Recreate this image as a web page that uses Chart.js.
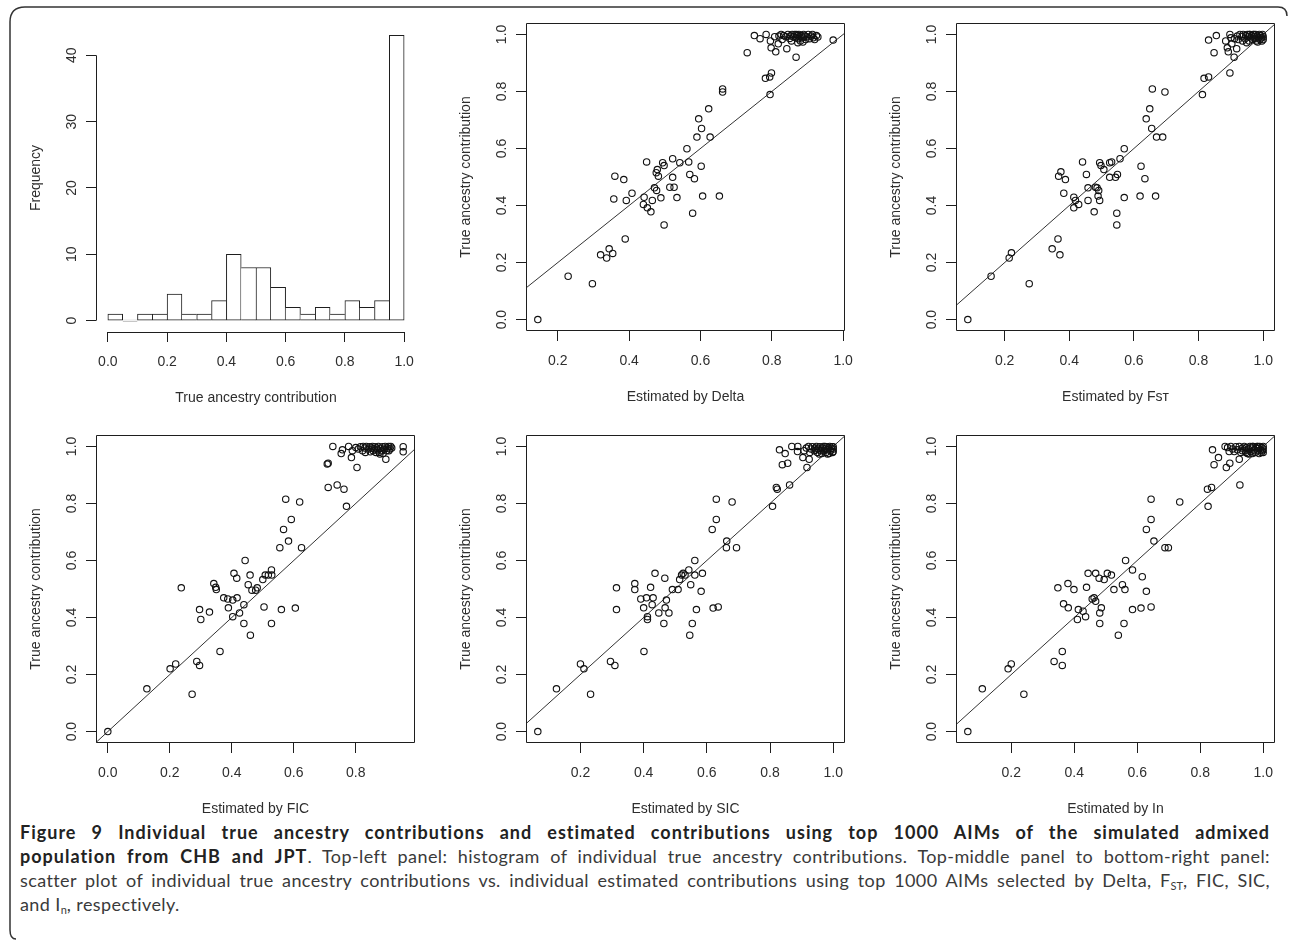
<!DOCTYPE html>
<html>
<head>
<meta charset="utf-8">
<script src="https://cdn.jsdelivr.net/npm/chart.js@4.4.1/dist/chart.umd.min.js"></script>
<style>
  body { margin: 0; background: #fff; width: 1290px; height: 940px; position: relative; overflow: hidden; }
  canvas { position: absolute; }
  #frame { position: absolute; left: 0; top: 0; }
  #caption { position: absolute; left: 20px; top: 820px; width: 1250px; font-family: Lato, "Open Sans", sans-serif;
             font-size: 18px; line-height: 24px; color: #3a3a3a; letter-spacing: 0.4px; }
  #caption div { text-align: justify; text-align-last: justify; white-space: nowrap; }
  #caption div.last { text-align-last: left; }
  #caption b { color: #222; letter-spacing: 1px; }
  #caption sub { font-size: 11px; vertical-align: -3px; line-height: 0; letter-spacing: 0; }
</style>
</head>
<body>
<svg id="frame" width="1290" height="940">
  <path d="M 16 939 Q 10 939 10 930 L 10 22 Q 10 7 25 7 L 1278 7 Q 1287 7 1287 16" fill="none" stroke="#333" stroke-width="1.5"/>
</svg>
<div id="caption">
  <div><b>Figure 9 Individual true ancestry contributions and estimated contributions using top 1000 AIMs of the simulated admixed</b></div>
  <div><b>population from CHB and JPT</b>. Top-left panel: histogram of individual true ancestry contributions. Top-middle panel to bottom-right panel:</div>
  <div>scatter plot of individual true ancestry contributions vs. individual estimated contributions using top 1000 AIMs selected by Delta, F<sub>ST</sub>, FIC, SIC,</div>
  <div class="last">and I<sub>n</sub>, respectively.</div>
</div>
<script>
// histogram of true ancestry contribution (bins of width 0.05)
const histBinCenters = [0.025, 0.075, 0.125, 0.175, 0.225, 0.275, 0.325, 0.375, 0.425, 0.475,
                        0.525, 0.575, 0.625, 0.675, 0.725, 0.775, 0.825, 0.875, 0.925, 0.975];
const histCounts = [1, 0, 1, 1, 4, 1, 1, 3, 10, 8, 8, 5, 2, 1, 2, 1, 3, 2, 3, 43];
const histXTicks = [0, 0.2, 0.4, 0.6, 0.8, 1.0];
const histYTicks = [0, 10, 20, 30, 40];

const trueTicks = [0, 0.2, 0.4, 0.6, 0.8, 1.0];
const estTicks = [0.2, 0.4, 0.6, 0.8, 1.0];
const ficTicks = [0, 0.2, 0.4, 0.6, 0.8];

// [estimated, true] per individual
const deltaPoints = [
  [0.144,0.000],[0.229,0.152],[0.297,0.126],[0.320,0.227],[0.337,0.216],[0.344,0.248],[0.354,0.232],[0.389,0.283],[0.357,0.423],[0.360,0.503],
  [0.385,0.491],[0.392,0.418],[0.408,0.443],[0.442,0.429],[0.440,0.404],[0.451,0.392],[0.461,0.378],[0.465,0.418],[0.449,0.553],[0.471,0.462],
  [0.476,0.515],[0.479,0.526],[0.482,0.503],[0.477,0.453],[0.489,0.427],[0.494,0.550],[0.498,0.540],[0.498,0.332],[0.522,0.564],[0.522,0.499],
  [0.514,0.464],[0.526,0.464],[0.534,0.428],[0.542,0.550],[0.562,0.599],[0.567,0.553],[0.570,0.509],[0.583,0.494],[0.578,0.373],[0.590,0.640],
  [0.595,0.704],[0.603,0.670],[0.602,0.538],[0.606,0.433],[0.623,0.739],[0.627,0.640],[0.653,0.433],[0.662,0.809],[0.662,0.798],[0.731,0.936],
  [0.751,0.996],[0.767,0.985],[0.784,1.000],[0.782,0.846],[0.794,0.851],[0.799,0.865],[0.795,0.789],[0.796,0.977],[0.798,0.953],[0.811,0.939],
  [0.818,0.967],[0.842,0.950],[0.868,0.920],[0.972,0.980],
  [0.808,0.992],[0.820,0.994],[0.826,1.000],[0.833,0.996],[0.839,0.992],[0.845,1.000],[0.850,0.986],[0.852,0.994],[0.857,1.000],[0.861,0.992],
  [0.864,1.000],[0.867,0.988],[0.869,1.000],[0.872,0.996],[0.874,0.985],[0.876,1.000],[0.878,0.992],[0.880,0.977],[0.883,0.996],[0.886,0.988],
  [0.889,1.000],[0.892,0.994],[0.895,0.982],[0.899,0.992],[0.902,1.000],[0.906,0.985],[0.911,0.994],[0.916,0.988],[0.920,0.982],[0.925,0.996],
  [0.929,0.991],[0.914,1.000],[0.887,0.973],[0.873,0.971],[0.829,0.982],[0.855,0.977]
];
const fstPoints = [
  [0.086,0.000],[0.158,0.152],[0.214,0.216],[0.221,0.234],[0.276,0.126],[0.347,0.248],[0.365,0.283],[0.371,0.227],[0.367,0.503],[0.374,0.518],
  [0.388,0.491],[0.383,0.443],[0.414,0.429],[0.414,0.392],[0.419,0.418],[0.429,0.404],[0.441,0.553],[0.453,0.509],[0.458,0.462],[0.458,0.418],
  [0.477,0.378],[0.481,0.464],[0.486,0.462],[0.489,0.433],[0.491,0.453],[0.494,0.418],[0.494,0.550],[0.498,0.540],[0.507,0.526],[0.525,0.499],
  [0.525,0.550],[0.531,0.553],[0.543,0.499],[0.549,0.509],[0.547,0.373],[0.547,0.332],[0.557,0.564],[0.570,0.599],[0.570,0.428],[0.622,0.538],
  [0.634,0.494],[0.619,0.433],[0.667,0.433],[0.638,0.704],[0.649,0.739],[0.655,0.670],[0.657,0.809],[0.670,0.640],[0.689,0.640],[0.696,0.798],
  [0.812,0.789],[0.817,0.846],[0.831,0.851],[0.848,0.936],[0.831,0.980],[0.855,0.996],[0.897,0.865],[0.884,0.977],[0.889,0.953],[0.892,0.939],
  [0.897,1.000],[0.910,0.920],[0.918,0.950],[0.903,0.967],
  [0.900,0.988],[0.911,0.985],[0.920,0.994],[0.928,1.000],[0.934,0.992],[0.938,1.000],[0.944,0.985],[0.946,0.996],[0.951,1.000],[0.955,0.992],
  [0.957,0.977],[0.959,1.000],[0.962,0.988],[0.965,0.996],[0.967,0.982],[0.969,1.000],[0.972,0.992],[0.975,0.985],[0.977,1.000],[0.979,0.977],
  [0.982,0.994],[0.986,0.988],[0.988,1.000],[0.990,0.982],[0.993,0.996],[0.995,0.988],[0.996,0.977],[0.998,1.000],[1.000,0.992],[1.000,0.982],
  [0.949,0.971],[0.936,0.977],[0.923,0.982],[0.983,0.973],[0.972,1.000],[0.957,1.000]
];
const ficPoints = [
  [0.000,0.000],[0.126,0.150],[0.201,0.220],[0.219,0.237],[0.272,0.131],[0.287,0.246],[0.296,0.232],[0.237,0.504],[0.296,0.428],[0.300,0.393],
  [0.328,0.419],[0.342,0.519],[0.348,0.506],[0.350,0.498],[0.362,0.281],[0.374,0.469],[0.389,0.434],[0.387,0.465],[0.403,0.461],[0.403,0.403],
  [0.407,0.555],[0.416,0.538],[0.417,0.469],[0.425,0.416],[0.439,0.445],[0.439,0.379],[0.443,0.600],[0.453,0.515],[0.459,0.549],[0.460,0.338],
  [0.465,0.496],[0.477,0.496],[0.482,0.504],[0.500,0.533],[0.504,0.437],[0.508,0.549],[0.518,0.549],[0.528,0.567],[0.529,0.549],[0.528,0.379],
  [0.555,0.645],[0.560,0.428],[0.567,0.709],[0.574,0.815],[0.583,0.668],[0.592,0.744],[0.605,0.433],[0.619,0.805],[0.625,0.645],[0.708,0.938],
  [0.711,0.941],[0.711,0.856],[0.726,1.000],[0.740,0.865],[0.753,0.975],[0.757,0.988],[0.762,0.850],[0.770,0.790],[0.777,1.000],[0.786,0.961],
  [0.804,0.926],[0.897,0.955],[0.953,0.999],[0.953,0.981],
  [0.800,0.996],[0.808,0.991],[0.815,0.999],[0.822,0.985],[0.829,0.994],[0.834,1.000],[0.831,0.979],[0.840,0.991],[0.845,0.999],[0.847,0.981],
  [0.851,0.994],[0.854,1.000],[0.856,0.985],[0.859,0.991],[0.862,0.999],[0.865,0.979],[0.868,0.994],[0.871,0.987],[0.873,1.000],[0.876,0.979],
  [0.880,0.993],[0.883,0.985],[0.886,0.999],[0.888,0.975],[0.892,0.991],[0.895,1.000],[0.899,0.985],[0.902,0.994],[0.906,1.000],[0.910,0.991],
  [0.913,1.000],[0.916,0.994],[0.789,0.985],[0.824,1.000],[0.878,0.973],[0.907,0.985]
];
const sicPoints = [
  [0.065,0.000],[0.124,0.150],[0.200,0.237],[0.211,0.220],[0.232,0.131],[0.295,0.246],[0.309,0.232],[0.314,0.504],[0.314,0.428],[0.372,0.519],
  [0.372,0.498],[0.391,0.465],[0.401,0.281],[0.400,0.434],[0.409,0.469],[0.412,0.403],[0.412,0.393],[0.422,0.506],[0.427,0.445],[0.430,0.469],
  [0.436,0.555],[0.448,0.416],[0.464,0.379],[0.467,0.538],[0.468,0.434],[0.472,0.461],[0.480,0.416],[0.491,0.498],[0.509,0.498],[0.514,0.533],
  [0.520,0.549],[0.525,0.555],[0.531,0.549],[0.543,0.567],[0.546,0.338],[0.549,0.515],[0.554,0.379],[0.562,0.600],[0.562,0.549],[0.567,0.428],
  [0.582,0.492],[0.586,0.555],[0.617,0.709],[0.620,0.433],[0.630,0.815],[0.630,0.744],[0.636,0.437],[0.662,0.645],[0.663,0.668],[0.680,0.805],
  [0.694,0.645],[0.808,0.790],[0.820,0.856],[0.823,0.850],[0.830,0.988],[0.839,0.936],[0.848,0.975],[0.856,0.941],[0.862,0.865],[0.869,1.000],
  [0.888,1.000],[0.887,0.982],[0.904,0.961],[0.917,0.926],[0.924,0.955],
  [0.908,0.985],[0.915,0.994],[0.922,1.000],[0.926,0.979],[0.930,0.991],[0.934,0.999],[0.940,0.985],[0.943,0.994],[0.947,1.000],[0.950,0.979],
  [0.953,0.991],[0.958,0.999],[0.961,0.985],[0.964,0.975],[0.966,0.994],[0.969,1.000],[0.971,0.985],[0.975,0.991],[0.977,0.979],[0.979,0.999],
  [0.982,0.988],[0.985,0.994],[0.987,0.975],[0.989,1.000],[0.992,0.985],[0.994,0.993],[0.996,0.999],[0.998,0.979],[1.000,0.991],[1.000,0.999],
  [1.000,0.982],[0.956,0.973],[0.982,0.973],[0.945,0.987],[0.974,1.000]
];
const inPoints = [
  [0.062,0.000],[0.108,0.150],[0.190,0.220],[0.200,0.237],[0.240,0.131],[0.336,0.246],[0.362,0.281],[0.362,0.232],[0.348,0.504],[0.366,0.448],
  [0.380,0.519],[0.381,0.434],[0.399,0.498],[0.410,0.393],[0.413,0.428],[0.428,0.422],[0.436,0.403],[0.439,0.506],[0.444,0.555],[0.457,0.465],
  [0.463,0.469],[0.468,0.457],[0.468,0.555],[0.479,0.538],[0.481,0.416],[0.481,0.379],[0.486,0.434],[0.495,0.533],[0.505,0.555],[0.518,0.549],
  [0.526,0.498],[0.540,0.338],[0.553,0.515],[0.558,0.379],[0.561,0.498],[0.563,0.600],[0.585,0.567],[0.585,0.428],[0.612,0.433],[0.616,0.543],
  [0.629,0.492],[0.629,0.709],[0.644,0.815],[0.644,0.744],[0.644,0.437],[0.653,0.668],[0.688,0.645],[0.699,0.645],[0.735,0.805],[0.825,0.790],
  [0.823,0.850],[0.836,0.856],[0.839,0.988],[0.844,0.936],[0.858,0.961],[0.879,1.000],[0.883,0.926],[0.894,0.941],[0.924,0.955],[0.926,0.865],
  [0.892,0.982],[0.966,0.975],
  [0.887,0.996],[0.897,1.000],[0.903,0.991],[0.908,0.982],[0.913,0.999],[0.918,0.988],[0.924,1.000],[0.929,0.979],[0.934,0.994],[0.940,1.000],
  [0.943,0.985],[0.947,0.996],[0.950,0.975],[0.953,0.991],[0.958,1.000],[0.961,0.982],[0.964,0.994],[0.968,1.000],[0.971,0.987],[0.975,0.979],
  [0.977,0.996],[0.980,1.000],[0.983,0.985],[0.985,0.993],[0.987,0.975],[0.989,1.000],[0.992,0.987],[0.994,0.979],[0.996,0.996],[0.998,0.985],
  [1.000,1.000],[1.000,0.991],[1.000,0.979],[0.945,0.979],[0.966,1.000],[0.983,1.000],[0.955,0.973],[0.934,0.985]
];

const INK = '#1e1e1e';
const TXT = '#2e2e2e';
const tickFont = { family: '"Liberation Sans", Arial, sans-serif', size: 14 };
const titleFont = { family: '"Liberation Sans", Arial, sans-serif', size: 14 };
const AXW = 90, AXH = 90, PADT = 30, PADR = 20;

// R's default axis range: data range widened by 4% on each side
function rRange(vals) {
  const lo = Math.min(...vals), hi = Math.max(...vals), d = (hi - lo) * 0.04;
  return [lo - d, hi + d];
}

// axis lines from first to last tick, plus the plot box for scatter panels
const rAxes = {
  id: 'rAxes',
  afterDraw(chart, args, opts) {
    const { ctx, chartArea: a, scales: { x, y } } = chart;
    ctx.save();
    ctx.strokeStyle = INK;
    ctx.lineWidth = 1;
    ctx.beginPath();
    if (opts.box) {
      ctx.rect(Math.round(a.left) + 0.5, Math.round(a.top) + 0.5,
               Math.round(a.right - a.left) - 1, Math.round(a.bottom - a.top) - 1);
    } else {
      const yb = Math.round(a.bottom) + 0.5, xl = Math.round(a.left) + 0.5;
      ctx.moveTo(x.getPixelForValue(x.ticks[0].value), yb);
      ctx.lineTo(x.getPixelForValue(x.ticks[x.ticks.length - 1].value), yb);
      ctx.moveTo(xl, y.getPixelForValue(y.ticks[0].value));
      ctx.lineTo(xl, y.getPixelForValue(y.ticks[y.ticks.length - 1].value));
    }
    ctx.stroke();
    ctx.restore();
  }
};

function addCanvas(box) {
  const c = document.createElement('canvas');
  const w = box.r - box.l + AXW + PADR, h = box.b - box.t + PADT + AXH;
  c.width = w; c.height = h;
  c.style.left = (box.l - AXW) + 'px';
  c.style.top = (box.t - PADT) + 'px';
  c.style.width = w + 'px';
  c.style.height = h + 'px';
  document.body.appendChild(c);
  return c;
}

const oneDec = v => Number(v).toFixed(1);

function xAxis(range, ticks, title, fmt) {
  return {
    type: 'linear', position: 'bottom', min: range[0], max: range[1], offset: false,
    afterBuildTicks: s => { s.ticks = ticks.map(v => ({ value: v })); },
    afterFit: s => { s.height = AXH; },
    grid: { drawOnChartArea: false, drawTicks: true, tickLength: 10, color: INK, offset: false },
    border: { display: false },
    ticks: { font: tickFont, color: TXT, padding: 11.6, minRotation: 0, maxRotation: 0, autoSkip: false, callback: fmt },
    title: { display: true, text: title, font: titleFont, color: TXT, padding: { top: 0, bottom: 15.6 } }
  };
}

function yAxis(range, ticks, title, fmt, pad) {
  return {
    type: 'linear', position: 'left', min: range[0], max: range[1],
    afterBuildTicks: s => { s.ticks = ticks.map(v => ({ value: v })); },
    afterFit: s => { s.width = AXW; },
    grid: { drawOnChartArea: false, drawTicks: true, tickLength: 10, color: INK },
    border: { display: false },
    ticks: { font: tickFont, color: TXT, padding: pad, minRotation: 90, maxRotation: 90, crossAlign: 'center', autoSkip: false, callback: fmt },
    title: { display: true, text: title, font: titleFont, color: TXT, padding: { top: 21.6, bottom: 0 } }
  };
}

const baseOptions = {
  responsive: false,
  animation: false,
  events: [],
  layout: { padding: { top: PADT, right: PADR, left: 0, bottom: 0 } }
};

// histogram panel
(function () {
  const box = { l: 96, t: 24, r: 416, b: 332 };
  const n = histCounts.length;
  new Chart(addCanvas(box), {
    type: 'bar',
    data: {
      datasets: [{
        data: histBinCenters.map((x, i) => ({ x, y: histCounts[i] })),
        backgroundColor: '#ffffff',
        borderColor: INK,
        borderSkipped: false,
        minBarLength: 1,
        barPercentage: 1,
        categoryPercentage: 1,
        borderWidth: c => {
          const i = c.dataIndex;
          return {
            top: 1, bottom: 1,
            left: (i === 0 || histCounts[i - 1] <= histCounts[i]) ? 1 : 0,
            right: (i === n - 1 || histCounts[i + 1] < histCounts[i]) ? 1 : 0
          };
        }
      }]
    },
    options: {
      ...baseOptions,
      plugins: { legend: { display: false }, tooltip: { enabled: false }, rAxes: { box: false } },
      scales: {
        x: xAxis(rRange([0, 1]), histXTicks, 'True ancestry contribution', oneDec),
        y: yAxis(rRange([0, Math.max(...histCounts)]), histYTicks, 'Frequency', v => String(v), 6.5)
      }
    },
    plugins: [rAxes]
  });
})();

function scatterPanel(box, points, xTicks, xTitle) {
  const xs = points.map(p => p[0]), ys = points.map(p => p[1]);
  new Chart(addCanvas(box), {
    type: 'scatter',
    data: {
      datasets: [
        {
          data: points.map(p => ({ x: p[0], y: p[1] })),
          pointRadius: 3.2,
          pointBorderWidth: 1.1,
          borderColor: '#111',
          backgroundColor: 'rgba(0,0,0,0)'
        },
        {
          // identity line y = x
          data: [{ x: -1, y: -1 }, { x: 2, y: 2 }],
          showLine: true,
          pointRadius: 0,
          borderWidth: 1,
          borderColor: '#333',
          clip: 0
        }
      ]
    },
    options: {
      ...baseOptions,
      plugins: { legend: { display: false }, tooltip: { enabled: false }, rAxes: { box: true } },
      scales: {
        x: xAxis(rRange(xs), xTicks, xTitle, oneDec),
        y: yAxis(rRange(ys), trueTicks, 'True ancestry contribution', oneDec, 4.5)
      }
    },
    plugins: [rAxes]
  });
}

scatterPanel({ l: 526, t: 23, r: 845, b: 331 }, deltaPoints, estTicks, 'Estimated by Delta');
scatterPanel({ l: 956, t: 23, r: 1275, b: 331 }, fstPoints, estTicks, 'Estimated by Fsт');
scatterPanel({ l: 96, t: 435, r: 415, b: 743 }, ficPoints, ficTicks, 'Estimated by FIC');
scatterPanel({ l: 526, t: 435, r: 845, b: 743 }, sicPoints, estTicks, 'Estimated by SIC');
scatterPanel({ l: 956, t: 435, r: 1275, b: 743 }, inPoints, estTicks, 'Estimated by In');
</script>
</body>
</html>
